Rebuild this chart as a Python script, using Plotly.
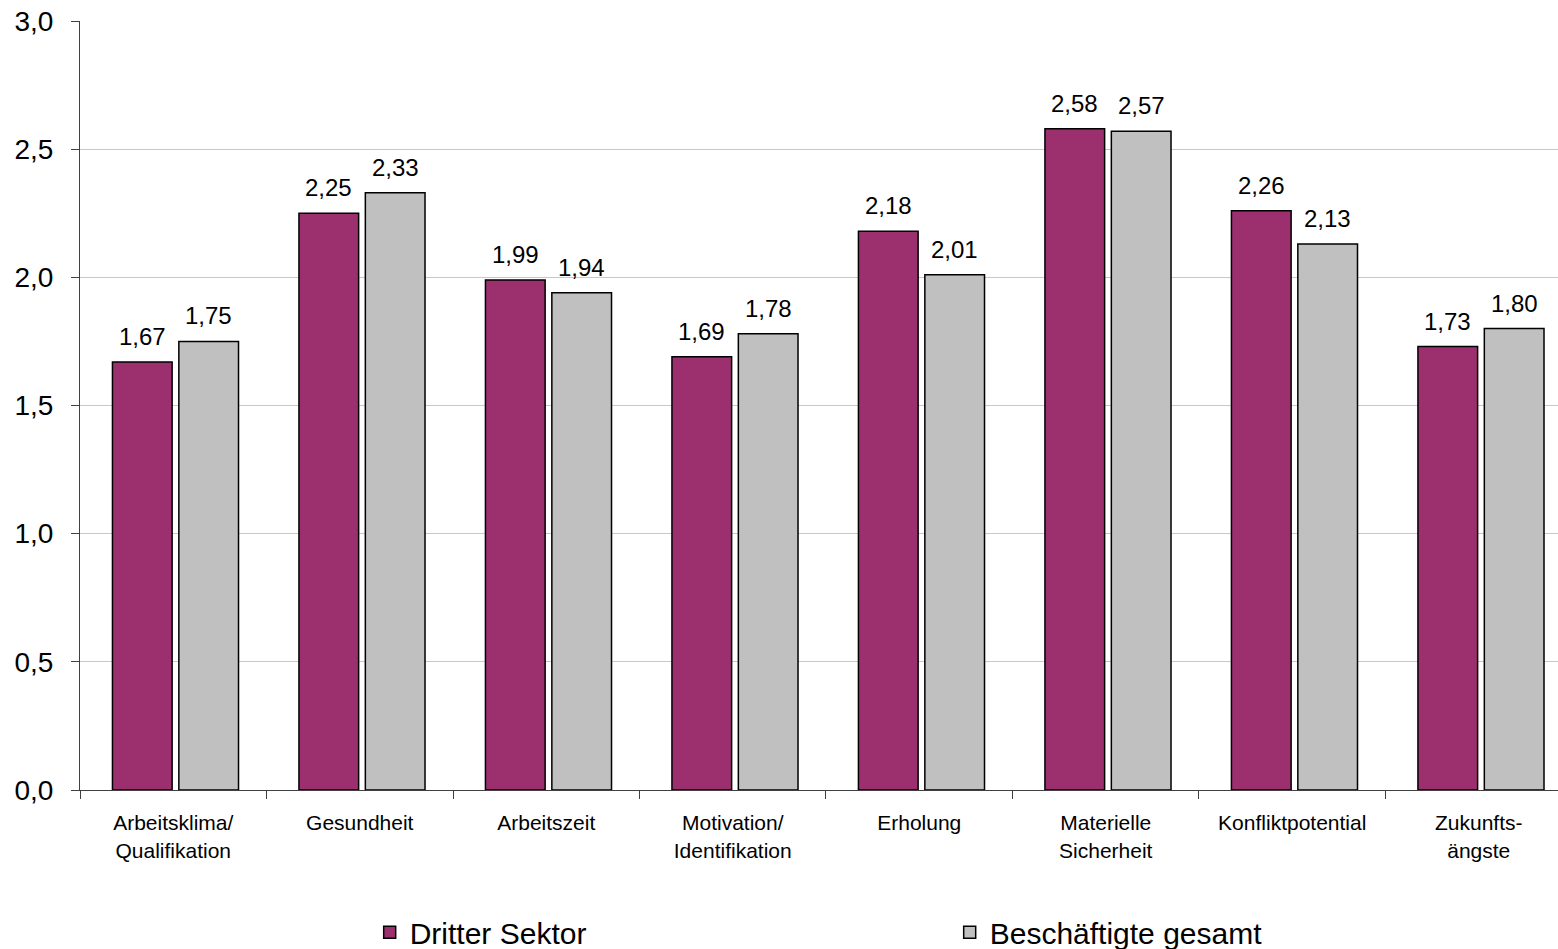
import plotly.graph_objects as go

categories = [
    "Arbeitsklima/<br>Qualifikation",
    "Gesundheit",
    "Arbeitszeit",
    "Motivation/<br>Identifikation",
    "Erholung",
    "Materielle<br>Sicherheit",
    "Konfliktpotential",
    "Zukunfts-<br>ängste",
]
dritter_sektor = [1.67, 2.25, 1.99, 1.69, 2.18, 2.58, 2.26, 1.73]
beschaeftigte_gesamt = [1.75, 2.33, 1.94, 1.78, 2.01, 2.57, 2.13, 1.80]
series_names = ["Dritter Sektor", "Beschäftigte gesamt"]
y_ticks = [0, 0.5, 1.0, 1.5, 2.0, 2.5, 3.0]

FONT = "Liberation Sans, Arial, sans-serif"
MAGENTA = "#9C2F6E"
GRAY = "#C0C0C0"
BAR_W = 0.32
OFFSETS = [-0.326, 0.03]

fig = go.Figure()
for name, vals, color, off in [
    (series_names[0], dritter_sektor, MAGENTA, OFFSETS[0]),
    (series_names[1], beschaeftigte_gesamt, GRAY, OFFSETS[1]),
]:
    fig.add_trace(go.Bar(
        x=categories, y=vals, name=name,
        marker=dict(color=color, line=dict(color="black", width=1.5)),
        width=BAR_W, offset=off,
    ))
    for i, v in enumerate(vals):
        fig.add_annotation(
            x=i + off + BAR_W / 2, y=v, xref="x", yref="y",
            text=f"{v:.2f}".replace(".", ","),
            showarrow=False, yanchor="bottom", yshift=10,
            font=dict(size=24, family=FONT, color="black"),
        )

fig.update_layout(
    width=1558, height=949,
    margin=dict(l=80, r=0, t=21, b=159, autoexpand=False),
    paper_bgcolor="white", plot_bgcolor="white",
    separators=",.",
    font=dict(family=FONT, color="black"),
    barmode="group",
    showlegend=True,
    legend=dict(
        orientation="h", x=0.196, xanchor="left", y=-0.185, yanchor="middle",
        font=dict(size=30, family=FONT, color="black"),
        entrywidth=535, entrywidthmode="pixels",
    ),
)
fig.update_xaxes(
    type="category",
    range=[-0.5, 7.425],
    showline=True, linecolor="#404040", linewidth=1,
    ticks="outside", tickson="boundaries", ticklen=8, tickcolor="#404040",
    tickfont=dict(size=21, family=FONT, color="black"),
    ticklabelstandoff=14,
    showgrid=False, automargin=False,
)
fig.update_yaxes(
    range=[0, 3.0],
    tickvals=y_ticks, tickformat=".1f",
    showline=True, linecolor="#404040", linewidth=1,
    ticks="outside", ticklen=8, tickcolor="#404040",
    tickfont=dict(size=28, family=FONT, color="black"),
    ticklabelstandoff=12,
    showgrid=True, gridcolor="#C8C8C8", gridwidth=1,
    zeroline=False, automargin=False,
)

fig.write_html("out.html")
